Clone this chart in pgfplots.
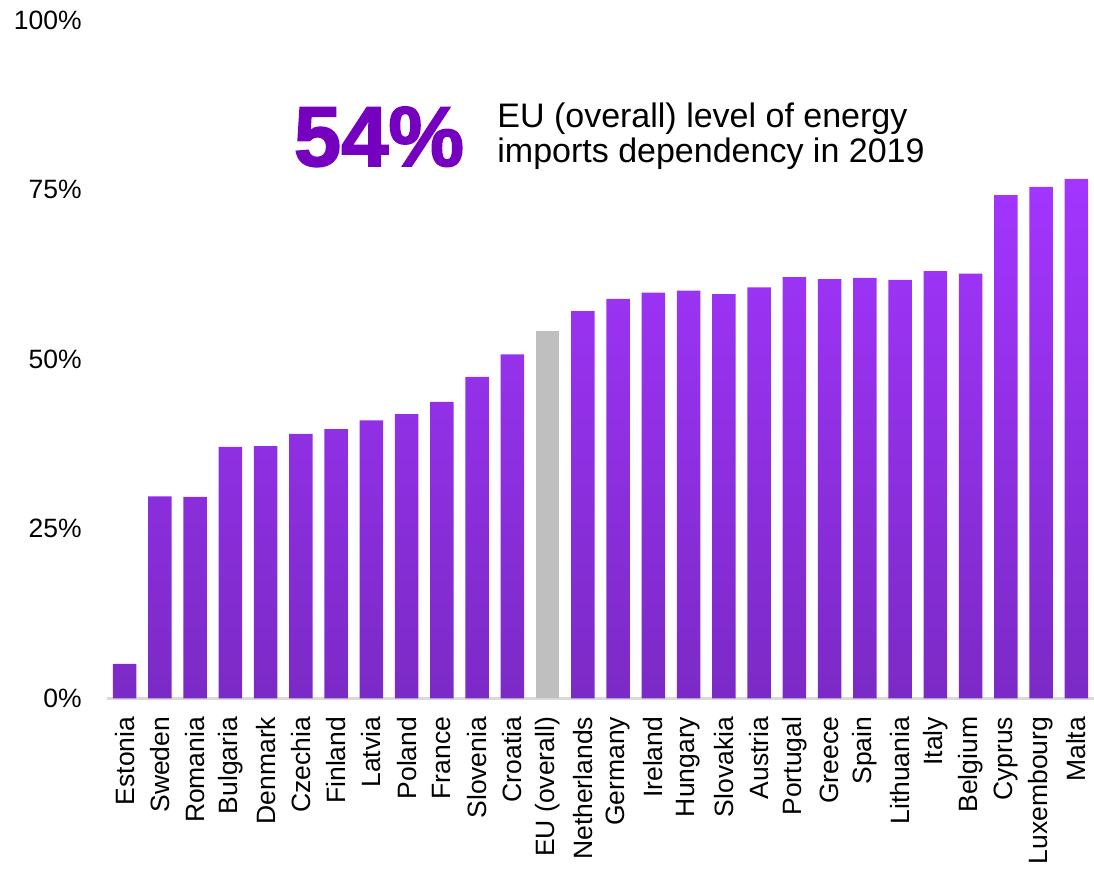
\documentclass[border=0pt]{standalone}
\usepackage{fontspec}
\setmainfont{Liberation Sans}
\newfontfamily\heavy[BoldFeatures={FakeBold=2}]{Liberation Sans}
\usepackage{pgfplots}
\pgfplotsset{compat=1.18}
\definecolor{bartop}{HTML}{A335FF}
\definecolor{barbot}{HTML}{7B2AC6}
\definecolor{eugrey}{HTML}{BFBFBF}
\definecolor{accpurple}{HTML}{7500C0}
\definecolor{axisgray}{HTML}{D9D9D9}
\begin{document}
\begin{tikzpicture}
\begin{axis}[
    scale only axis,
    width=493.5pt, height=339.25pt,
    at={(0,0)}, anchor=south west,
    xmin=-0.5, xmax=27.5,
    ymin=0, ymax=100,
    axis x line*=bottom,
    axis y line*=left,
    x axis line style={draw=axisgray, line width=1.2pt, -},
    y axis line style={draw=none},
    xtick={0,...,27},
    xticklabels={Estonia,Sweden,Romania,Bulgaria,Denmark,Czechia,Finland,Latvia,Poland,France,Slovenia,Croatia,{EU (overall)},Netherlands,Germany,Ireland,Hungary,Slovakia,Austria,Portugal,Greece,Spain,Lithuania,Italy,Belgium,Cyprus,Luxembourg,Malta},
    xticklabel style={rotate=90, anchor=east, inner sep=0pt, font=\fontsize{13.25}{15}\selectfont},
    xticklabel shift=9pt,
    major tick length=0pt,
    ytick={0,25,50,75,100},
    yticklabels={0\%,25\%,50\%,75\%,100\%},
    yticklabel style={anchor=east, inner sep=0pt, font=\fontsize{13.25}{15}\selectfont},
    yticklabel shift=12.5pt,
    ybar, bar width=11.75pt, bar shift=0pt,
    clip=false,
]
\addplot[draw=none, top color=bartop, bottom color=barbot] coordinates {
    (0,5.1) (1,29.8) (2,29.7) (3,37.1) (4,37.2) (5,39.0) (6,39.7) (7,41.0)
    (8,41.9) (9,43.7) (10,47.4) (11,50.7) (13,57.1) (14,58.9) (15,59.8)
    (16,60.1) (17,59.6) (18,60.6) (19,62.1) (20,61.8) (21,62.0) (22,61.7)
    (23,63.0) (24,62.6) (25,74.2) (26,75.4) (27,76.6)
};
\addplot[draw=none, fill=eugrey] coordinates {(12,54.1)};
\end{axis}
\node[anchor=base west, inner sep=0pt, text=accpurple, font=\heavy\bfseries\fontsize{42.5}{45}\selectfont] at (93.25pt,266.25pt) {54\%};
\node[anchor=base west, inner sep=0pt, align=left, font=\fontsize{17}{17.75}\selectfont] at (195pt,267.75pt) {EU (overall) level of energy\\imports dependency in 2019};
\pgfresetboundingbox
\useasboundingbox (-53.5pt,-88.75pt) rectangle (493.5pt,349.25pt);
\end{tikzpicture}
\end{document}
